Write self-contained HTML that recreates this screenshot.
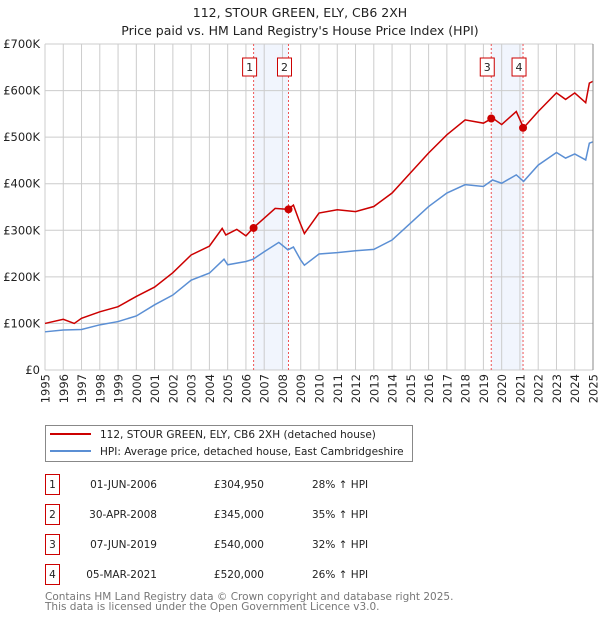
<!DOCTYPE html>
<html><head><meta charset="utf-8"><style>
body{margin:0;background:#fff;font-family:"DejaVu Sans","Liberation Sans",sans-serif;}
svg text{font-family:"DejaVu Sans","Liberation Sans",sans-serif;}
</style></head><body>
<svg id="c" width="600" height="620" xmlns="http://www.w3.org/2000/svg"></svg>
<script>
const years=[1995,1996,1997,1998,1999,2000,2001,2002,2003,2004,2005,2006,2007,2008,2009,2010,2011,2012,2013,2014,2015,2016,2017,2018,2019,2020,2021,2022,2023,2024,2025];
const yTicks=[0,100000,200000,300000,400000,500000,600000,700000];
const yTickLabels=["£0","£100K","£200K","£300K","£400K","£500K","£600K","£700K"];
const hpiT=[1995,1996,1997,1998,1999,2000,2001,2002,2003,2004,2004.8,2005,2006,2006.4,2007,2007.8,2008.3,2008.6,2009,2009.2,2010,2011,2012,2013,2014,2015,2016,2017,2018,2019,2019.5,2020,2020.8,2021.2,2022,2023,2023.5,2024,2024.6,2024.8,2025];
const hpiV=[82,86,87,97,104,116,140,161,193,208,238,226,233,238,254,274,258,264,236,225,249,252,256,259,279,315,351,380,398,394,408,401,419,405,440,467,455,464,451,487,490];
const redT=[1995,1996,1996.6,1997,1998,1999,2000,2001,2002,2003,2004,2004.7,2004.9,2005.5,2006,2006.4,2007,2007.6,2008.3,2008.6,2008.9,2009.2,2010,2011,2012,2013,2014,2015,2016,2017,2018,2019,2019.5,2020,2020.8,2021.2,2022,2023,2023.5,2024,2024.6,2024.8,2025];
const redV=[100,109,100,111,125,136,158,178,209,247,266,304,290,302,288,305,326,347,345,354,322,293,337,344,340,351,380,423,466,505,537,530,541,527,555,520,555,595,581,595,574,616,620];
const saleT=[2006.42,2008.33,2019.43,2021.17];
const saleV=[304950,345000,540000,520000];
const saleLabels=["1","2","3","4"];
const saleDates=["01-JUN-2006","30-APR-2008","07-JUN-2019","05-MAR-2021"];
const salePrices=["£304,950","£345,000","£540,000","£520,000"];
const salePct=["28% ↑ HPI","35% ↑ HPI","32% ↑ HPI","26% ↑ HPI"];
const bands=[[2006.42,2008.33],[2019.43,2021.17]];

const X0=45,X1=593,Y0=370,Y1=44;
const xs=t=>X0+(t-1995)/(2025-1995)*(X1-X0);
const ys=v=>Y0-v/700000*(Y0-Y1);
const svg=document.getElementById('c');
const NS="http://www.w3.org/2000/svg";
function mk(tag,attrs,parent){const e=document.createElementNS(NS,tag);for(const k in attrs)e.setAttribute(k,attrs[k]);(parent||svg).appendChild(e);return e;}
function txt(s,attrs){const e=mk('text',attrs);e.textContent=s;return e;}

let t=txt("112, STOUR GREEN, ELY, CB6 2XH",{x:300,y:17,'text-anchor':'middle','font-size':12.5,fill:'#222'});

t=txt("Price paid vs. HM Land Registry's House Price Index (HPI)",{x:300,y:35,'text-anchor':'middle','font-size':12.5,fill:'#222'});


bands.forEach(b=>{const r=mk('rect',{x:xs(b[0]),y:Y1,width:xs(b[1])-xs(b[0]),height:Y0-Y1,fill:'#eef3fc',opacity:0.8});
});

years.forEach(y=>{const l=mk('line',{x1:xs(y),x2:xs(y),y1:Y1,y2:Y0,stroke:'#ccc','stroke-width':1});

const tx=txt(String(y),{transform:`translate(${xs(y)+4.5},${Y0+4}) rotate(-90)`,'text-anchor':'end','font-size':11.5,fill:'#222'});
});
yTicks.forEach((v,i)=>{const l=mk('line',{x1:X0,x2:X1,y1:ys(v),y2:ys(v),stroke:'#ccc','stroke-width':1});

const tx=txt(yTickLabels[i],{x:X0-5,y:ys(v)+4,'text-anchor':'end','font-size':11.5,fill:'#222'});
});

saleT.forEach((s,i)=>{const l=mk('line',{x1:xs(s),x2:xs(s),y1:Y1,y2:Y0,stroke:'#e55','stroke-width':1,'stroke-dasharray':'2,2'});

const bx=xs(s)-4;
const r=mk('rect',{x:bx-7,y:58,width:14,height:18,fill:'#fff',stroke:'#c00','stroke-width':1});

const tx=txt(saleLabels[i],{x:bx,y:71,'text-anchor':'middle','font-size':11,fill:'#222'});
});

const hp=mk('polyline',{points:hpiT.map((t,i)=>xs(t)+','+ys(hpiV[i]*1000)).join(' '),fill:'none',stroke:'#5b8fd4','stroke-width':1.5});

const rp=mk('polyline',{points:redT.map((t,i)=>xs(t)+','+ys(redV[i]*1000)).join(' '),fill:'none',stroke:'#c00','stroke-width':1.5});

saleT.forEach((s,i)=>{const c=mk('circle',{cx:xs(s),cy:ys(saleV[i]),r:4,fill:'#c00'});
});
const ax=mk('line',{x1:X1,x2:X1,y1:Y1,y2:Y0,stroke:'#888','stroke-width':1});


const lg=mk('rect',{x:45.5,y:425.5,width:367,height:36,fill:'#fff',stroke:'#888','stroke-width':1});

let ll=mk('line',{x1:50,x2:91,y1:434,y2:434,stroke:'#c00','stroke-width':2});

t=txt("112, STOUR GREEN, ELY, CB6 2XH (detached house)",{x:100,y:438,'font-size':10.5,fill:'#222'});

ll=mk('line',{x1:50,x2:91,y1:451,y2:451,stroke:'#5b8fd4','stroke-width':2});

t=txt("HPI: Average price, detached house, East Cambridgeshire",{x:100,y:455,'font-size':10.5,fill:'#222'});


saleLabels.forEach((lb,i)=>{const yc=483+i*30;
const r=mk('rect',{x:45.5,y:yc-8.5,width:14,height:20,fill:'#fff',stroke:'#c00','stroke-width':1});

let e=txt(lb,{x:52.5,y:yc+5,'text-anchor':'middle','font-size':10.5,fill:'#222'});

e=txt(saleDates[i],{x:157,y:yc+5,'text-anchor':'end','font-size':10.5,fill:'#222'});

e=txt(salePrices[i],{x:264,y:yc+5,'text-anchor':'end','font-size':10.5,fill:'#222'});

e=txt(salePct[i],{x:312,y:yc+5,'font-size':10.5,fill:'#222'});
});

t=txt("Contains HM Land Registry data © Crown copyright and database right 2025.",{x:45,y:600,'font-size':10.5,fill:'#777'});

t=txt("This data is licensed under the Open Government Licence v3.0.",{x:45,y:610,'font-size':10.5,fill:'#777'});

</script>
</body></html>
